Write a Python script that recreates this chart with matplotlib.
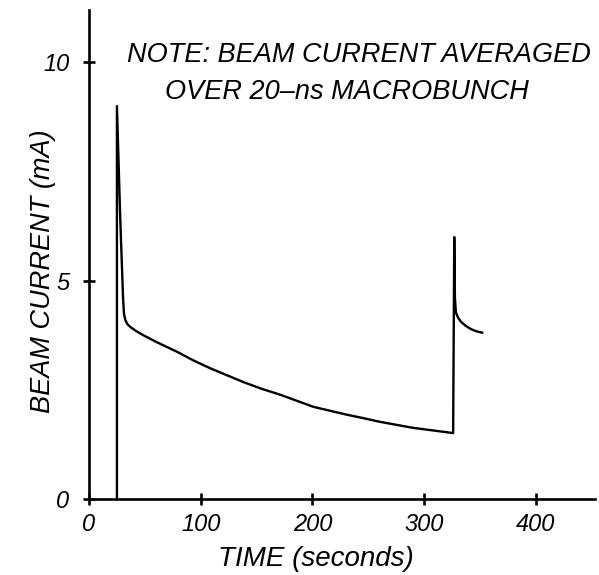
import matplotlib
matplotlib.use("Agg")
import matplotlib.pyplot as plt

# Data
time_s = [25, 25, 28, 30.5, 31.3, 32.5, 34.5, 37.5, 42, 48, 60, 79, 93, 108, 123, 138, 155, 171,
          186, 201, 216, 231, 246, 260, 275, 290, 308, 326,
          327, 327.6, 328.5, 330.5, 333, 337, 342, 347, 352]
current_mA = [0, 9.0, 6.4, 4.6, 4.25, 4.1, 4.0, 3.93, 3.85, 3.76, 3.6, 3.37, 3.18, 3.0, 2.84, 2.68, 2.52, 2.39,
              2.25, 2.11, 2.02, 1.93, 1.85, 1.77, 1.7, 1.63, 1.57, 1.51,
              6.0, 4.6, 4.27, 4.15, 4.06, 3.97, 3.89, 3.84, 3.81]
x_ticks = [0, 100, 200, 300, 400]
y_ticks = [0, 5, 10]
note_line1 = "NOTE: BEAM CURRENT AVERAGED"
note_line2 = "OVER 20\u2013ns MACROBUNCH"

plt.rcParams['font.family'] = ['Liberation Sans', 'DejaVu Sans']

W, H = 599, 575
fig = plt.figure(figsize=(W / 100, H / 100), dpi=100)
ax = fig.add_axes([89 / W, 1 - 499 / H, (595 - 89) / W, (499 - 10) / H])

ax.plot(time_s, current_mA, color='black', lw=1.7, solid_joinstyle='round')

ax.set_xlim(0, 453)
ax.set_ylim(0, 11.2)
ax.set_xticks(x_ticks)
ax.set_yticks(y_ticks)
for s in ['top', 'right']:
    ax.spines[s].set_visible(False)
for s in ['left', 'bottom']:
    ax.spines[s].set_linewidth(1.9)
ax.tick_params(direction='inout', length=8, width=1.9, labelsize=17, pad=6)
ax.tick_params(axis='y', pad=10)
for lab in ax.get_xticklabels() + ax.get_yticklabels():
    lab.set_fontstyle('italic')

def fx(px):
    return px / W

def fy(py):
    return 1 - py / H

fig.text(fx(359), fy(55), note_line1, ha='center', va='center', fontsize=19.5, style='italic')
fig.text(fx(347), fy(92), note_line2.replace("\u2013", " \u2013 ").replace(" \u2013 ", "\u2013"),
         ha='center', va='center', fontsize=19.5, style='italic')
fig.text(fx(43), fy(271), "BEAM CURRENT (mA)", ha='center', va='center', rotation=90, fontsize=19.5, style='italic')
fig.text(fx(316), fy(559), "TIME (seconds)", ha='center', va='center', fontsize=20, style='italic')

fig.savefig("out.png", dpi=100)
